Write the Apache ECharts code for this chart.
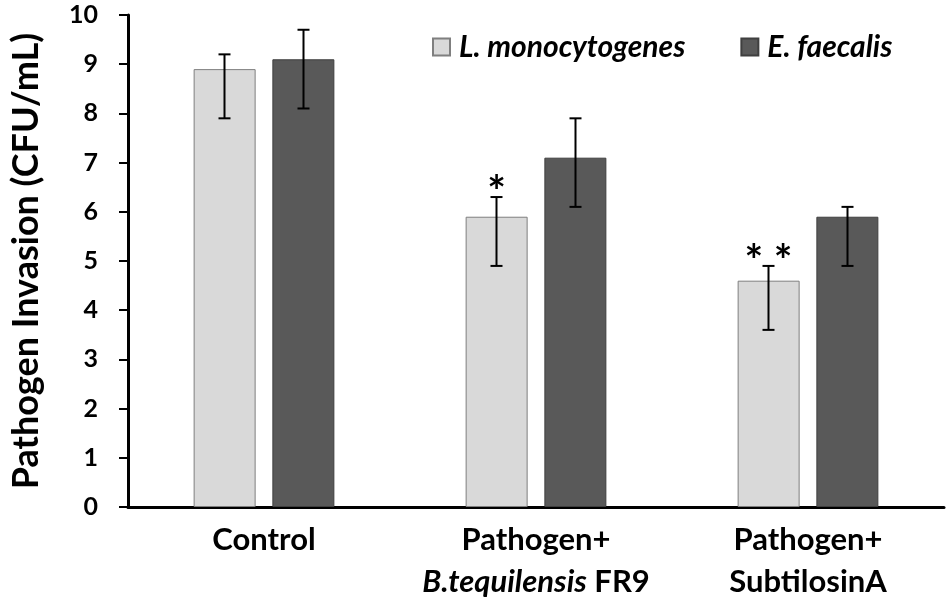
<!DOCTYPE html>
<html>
<head>
<meta charset="utf-8">
<title>Pathogen Invasion</title>
<script src="https://cdn.jsdelivr.net/npm/echarts@6/dist/echarts.min.js"></script>
<style>
    html, body { margin: 0; padding: 0; background: #fff; }
    #chart { width: 950px; height: 606px; }
</style>
</head>
<body>
<div id="chart"></div>
<script>
    // data
    var categories = ['Control', 'Pathogen+\nB.tequilensis FR9', 'Pathogen+\nSubtilosinA'];
    var seriesNames = ['L. monocytogenes', 'E. faecalis'];
    var lmMean = [8.9, 5.9, 4.6];
    var lmLow = [7.9, 4.9, 3.6];
    var lmHigh = [9.2, 6.3, 4.9];
    var efMean = [9.1, 7.1, 5.9];
    var efLow = [8.1, 6.1, 4.9];
    var efHigh = [9.7, 7.9, 6.1];
    var lmStars = ['', '*', '* *'];

    var FONT = 'Lato';
    var BAR_W = 62;
    var OFFSET = 39.5; // half of (bar width + gap)

    function errRows(low, high, marks) {
        return categories.map(function (c, i) {
            return [i, low[i], high[i], marks ? marks[i] : ''];
        });
    }

    function errorBars(offset) {
        return function (params, api) {
            var x = api.coord([api.value(0), 0])[0] + offset;
            var hi = api.coord([api.value(0), api.value(2)])[1];
            var lo = api.coord([api.value(0), api.value(1)])[1];
            var cap = 6;
            var st = { stroke: '#000', lineWidth: 2 };
            var kids = [
                { type: 'line', shape: { x1: x, y1: hi, x2: x, y2: lo }, style: st },
                { type: 'line', shape: { x1: x - cap, y1: hi, x2: x + cap, y2: hi }, style: st },
                { type: 'line', shape: { x1: x - cap, y1: lo, x2: x + cap, y2: lo }, style: st }
            ];
            var mark = api.value(3);
            if (mark) {
                kids.push({
                    type: 'text',
                    style: {
                        x: x, y: hi - 4, text: mark,
                        align: 'center', verticalAlign: 'middle',
                        font: 'bold 44px ' + FONT, fill: '#000'
                    }
                });
            }
            return { type: 'group', children: kids };
        };
    }

    var myChart = echarts.init(document.getElementById('chart'));

    var option = {
        backgroundColor: '#fff',
        animation: false,
        grid: { left: 112, right: 6, top: 15, bottom: 99 },
        legend: {
            data: seriesNames,
            left: 427,
            top: 27,
            icon: 'rect',
            itemWidth: 17,
            itemHeight: 17,
            itemGap: 55,
            textStyle: { fontFamily: FONT, fontSize: 30, fontWeight: 'bold', fontStyle: 'italic', color: '#000', padding: [0, 0, 0, 4] }
        },
        xAxis: {
            type: 'category',
            data: categories,
            axisLine: { lineStyle: { color: '#000', width: 3 } },
            axisTick: { show: false },
            axisLabel: {
                interval: 0,
                margin: 12,
                color: '#000',
                fontFamily: FONT,
                fontSize: 31,
                fontWeight: 'bold',
                lineHeight: 42,
                formatter: function (v) {
                    return v.replace('B.tequilensis', '{i|B.tequilensis}');
                },
                rich: {
                    i: { fontFamily: FONT, fontSize: 31, fontWeight: 'bold', fontStyle: 'italic', color: '#000', lineHeight: 42 }
                }
            }
        },
        yAxis: {
            type: 'value',
            min: 0,
            max: 10,
            interval: 1,
            name: 'Pathogen Invasion (CFU/mL)',
            nameLocation: 'middle',
            nameGap: 84,
            nameTextStyle: { fontFamily: FONT, fontSize: 36, fontWeight: 'bold', color: '#000' },
            splitLine: { show: false },
            axisLine: { show: true, lineStyle: { color: '#000', width: 3 } },
            axisTick: { show: true, length: 9, lineStyle: { color: '#000', width: 2 } },
            axisLabel: { margin: 30, color: '#000', fontFamily: FONT, fontSize: 25, fontWeight: 'bold' }
        },
        series: [
            {
                name: seriesNames[0],
                type: 'bar',
                data: lmMean,
                barWidth: BAR_W,
                barGap: '27%',
                itemStyle: { color: '#d9d9d9', borderColor: '#7f7f7f', borderWidth: 1 }
            },
            {
                name: seriesNames[1],
                type: 'bar',
                data: efMean,
                barWidth: BAR_W,
                itemStyle: { color: '#595959', borderColor: '#3f3f3f', borderWidth: 1 }
            },
            {
                type: 'custom',
                renderItem: errorBars(-OFFSET),
                data: errRows(lmLow, lmHigh, lmStars),
                z: 10,
                silent: true
            },
            {
                type: 'custom',
                renderItem: errorBars(OFFSET),
                data: errRows(efLow, efHigh),
                z: 10,
                silent: true
            }
        ]
    };

    myChart.setOption(option);
</script>
</body>
</html>
